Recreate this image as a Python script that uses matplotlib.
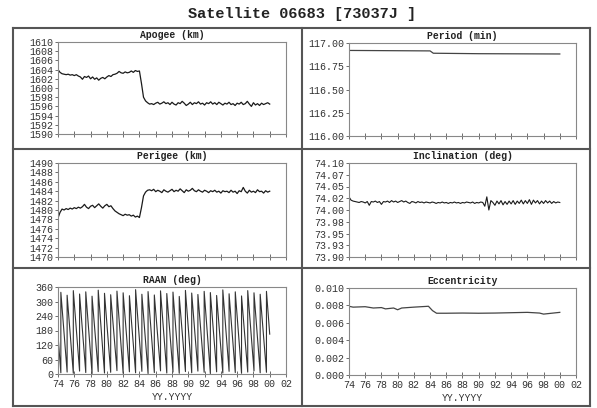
import numpy as np
import matplotlib
matplotlib.use('Agg')
import matplotlib.pyplot as plt
from matplotlib.lines import Line2D

plt.rcParams['font.family'] = ['Liberation Mono', 'DejaVu Sans Mono']

# sample epochs (two-digit years, 19xx)
years = [74.0, 74.25, 74.5, 74.75, 75.0, 75.25, 75.5, 75.75,
         76.0, 76.25, 76.5, 76.75, 77.0, 77.25, 77.5, 77.75,
         78.0, 78.25, 78.5, 78.75, 79.0, 79.25, 79.5, 79.75,
         80.0, 80.25, 80.5, 80.75, 81.0, 81.25, 81.5, 81.75,
         82.0, 82.25, 82.5, 82.75, 83.0, 83.25, 83.5, 83.75,
         84.0, 84.25, 84.5, 84.75, 85.0, 85.25, 85.5, 85.75,
         86.0, 86.25, 86.5, 86.75, 87.0, 87.25, 87.5, 87.75,
         88.0, 88.25, 88.5, 88.75, 89.0, 89.25, 89.5, 89.75,
         90.0, 90.25, 90.5, 90.75, 91.0, 91.25, 91.5, 91.75,
         92.0, 92.25, 92.5, 92.75, 93.0, 93.25, 93.5, 93.75,
         94.0, 94.25, 94.5, 94.75, 95.0, 95.25, 95.5, 95.75,
         96.0, 96.25, 96.5, 96.75, 97.0, 97.25, 97.5, 97.75,
         98.0, 98.25, 98.5, 98.75, 99.0, 99.25, 99.5, 99.75,
         100.0]

apogee = [1604.0, 1603.4, 1603.1, 1603.0, 1602.9, 1603.0, 1602.8, 1602.9,
          1602.7, 1602.9, 1602.6, 1602.4, 1601.9, 1602.5, 1602.3, 1602.6,
          1602.0, 1602.4, 1601.9, 1602.2, 1601.7, 1602.1, 1602.3, 1602.0,
          1602.4, 1602.7, 1602.5, 1602.9, 1603.0, 1603.2, 1603.6, 1603.3,
          1603.2, 1603.5, 1603.3, 1603.4, 1603.7, 1603.4, 1603.8, 1603.6,
          1603.7, 1601.0, 1598.0, 1597.2, 1596.8, 1596.5, 1596.6, 1596.4,
          1596.7, 1596.9, 1596.5, 1596.7, 1597.0, 1596.6, 1596.8, 1596.4,
          1596.9, 1596.5, 1596.3, 1596.8, 1596.6, 1597.1, 1596.7, 1596.2,
          1596.5, 1596.9, 1596.4, 1596.8, 1596.6, 1597.0, 1596.5, 1596.7,
          1596.3, 1596.8, 1596.6, 1597.0, 1596.5, 1596.8, 1596.4, 1596.9,
          1596.6, 1596.3, 1596.7, 1596.5, 1596.9, 1596.4, 1596.6, 1596.2,
          1596.7, 1596.5, 1596.9, 1596.4, 1596.6, 1597.1, 1596.5, 1596.0,
          1596.8, 1596.3, 1596.6, 1596.2, 1596.7, 1596.4, 1596.6, 1596.8,
          1596.5]

perigee = [1478.3, 1479.5, 1480.2, 1480.0, 1480.3, 1480.1, 1480.4, 1480.2,
           1480.5, 1480.3, 1480.6, 1480.4, 1480.7, 1481.2, 1480.6, 1480.3,
           1480.8, 1481.0, 1480.5, 1480.9, 1481.3, 1480.8, 1480.4, 1480.9,
           1481.2, 1480.7, 1480.9, 1480.3, 1479.8, 1479.5, 1479.2, 1479.0,
           1478.8, 1479.1, 1478.9, 1479.0, 1478.7, 1478.9, 1478.5, 1478.7,
           1478.4, 1480.5, 1483.0, 1483.8, 1484.2, 1484.3, 1484.1, 1484.4,
           1483.9, 1484.2, 1484.0, 1483.7, 1484.3, 1484.0, 1483.8, 1484.1,
           1484.4, 1483.9, 1484.2, 1484.0, 1484.5, 1484.1, 1483.7, 1484.3,
           1484.0, 1484.2, 1484.6, 1484.1, 1483.9, 1484.3, 1484.0, 1483.8,
           1484.2, 1484.0, 1483.7, 1484.1, 1483.9, 1484.2, 1483.8, 1484.0,
           1483.6, 1484.1, 1483.9, 1484.0, 1483.7, 1484.2, 1483.8, 1484.0,
           1483.5, 1484.1, 1483.9, 1484.8, 1484.0, 1483.6, 1484.2, 1483.8,
           1484.0, 1483.7, 1484.3, 1483.9, 1484.0, 1483.6, 1484.1, 1483.8,
           1484.0]

inclination = [74.028, 74.021, 74.019, 74.018, 74.017, 74.016, 74.018, 74.017,
               74.015, 74.018, 74.010, 74.018, 74.017, 74.019, 74.016, 74.018,
               74.012, 74.018, 74.017, 74.019, 74.016, 74.020, 74.017, 74.019,
               74.016, 74.018, 74.020, 74.017, 74.019, 74.016, 74.014, 74.018,
               74.017, 74.015, 74.018, 74.016, 74.017, 74.015, 74.017, 74.016,
               74.015, 74.017, 74.016, 74.014, 74.016, 74.015, 74.017, 74.015,
               74.016, 74.014, 74.016, 74.015, 74.017, 74.015, 74.016, 74.014,
               74.016, 74.015, 74.017, 74.016, 74.015, 74.017, 74.014, 74.016,
               74.015, 74.017, 74.016, 74.008, 74.028, 74.000, 74.020, 74.016,
               74.010, 74.019, 74.013, 74.020, 74.011, 74.018, 74.012, 74.019,
               74.013, 74.020, 74.012, 74.019, 74.014, 74.021, 74.013, 74.020,
               74.014, 74.022, 74.012, 74.021, 74.015, 74.020, 74.013, 74.019,
               74.014, 74.020, 74.015, 74.019, 74.014, 74.018, 74.015, 74.017,
               74.016]

period_years = [74.0, 78.0, 84.0, 84.4, 90.0, 100.0]
period = [116.92, 116.918, 116.915, 116.89, 116.885, 116.882]

ecc_years = [74.0, 74.5, 76.0, 77.0, 78.0, 78.5, 79.5, 80.0, 80.5, 82.0, 83.8,
             84.3, 84.8, 86.0, 88.0, 90.0, 92.0, 96.0, 97.5, 98.0, 100.0]
eccentricity = [0.0079, 0.0078, 0.00785, 0.0077, 0.00775, 0.0076, 0.0077, 0.0075,
                0.0077, 0.0078, 0.0079, 0.0074, 0.0071, 0.0071, 0.00712, 0.0071,
                0.00712, 0.0072, 0.00712, 0.0070, 0.0072]

# RAAN wraps 360 -> 0 (read from the strokes)
raan_wrap_years = [74.35, 75.12, 75.88, 76.65, 77.41, 78.18, 78.94, 79.71, 80.47, 81.24,
                   82.00, 82.77, 83.53, 84.30, 85.06, 85.83, 86.59, 87.36, 88.12, 88.89,
                   89.65, 90.42, 91.18, 91.95, 92.71, 93.48, 94.24, 95.01, 95.77, 96.54,
                   97.30, 98.07, 98.83, 99.60]
raan_troughs = [5, 8, 3, 12, 6, 2, 10, 4, 7, 14, 3, 9, 5, 11, 2, 6, 13, 4, 8, 3,
                10, 5, 12, 7, 2, 9, 4, 11, 6, 3, 8, 13, 5, 7]
raan_peaks = [338, 326, 345, 331, 340, 322, 347, 334, 328, 343, 336, 324, 349, 330, 341,
              327, 344, 333, 339, 321, 346, 335, 329, 342, 337, 325, 348, 332, 340, 323,
              345, 336, 330, 342]
raan_start = 160
raan_end = 165

xticks = [74, 76, 78, 80, 82, 84, 86, 88, 90, 92, 94, 96, 98, 100, 102]
xticklabels = ['74', '76', '78', '80', '82', '84', '86', '88', '90', '92', '94',
               '96', '98', '00', '02']

W, H = 597, 408
fig = plt.figure(figsize=(W / 100, H / 100), dpi=100)
fig.patch.set_facecolor('white')


def box(l, r, t, b):
    return [l / W, 1 - b / H, (r - l) / W, (b - t) / H]


def style(ax, title, yt, ylabels, bottom=False):
    ax.set_xlim(74, 102)
    ax.set_ylim(yt[0], yt[-1])
    ax.set_title(title, fontsize=7, fontweight='bold', pad=3, color='#222')
    for s in ax.spines.values():
        s.set_color('#888')
        s.set_linewidth(0.8)
    ax.set_yticks(yt)
    ax.set_yticklabels(ylabels)
    ax.tick_params(axis='y', direction='out', length=2.5, width=0.6, colors='#555',
                   labelsize=7.2, labelcolor='#333', pad=1)
    ax.set_xticks(xticks)
    ax.tick_params(axis='x', direction='inout', length=5, width=0.6, colors='#555',
                   labelsize=7.2, labelcolor='#333', pad=1)
    if bottom:
        ax.set_xticklabels(xticklabels)
        ax.set_xlabel('YY.YYYY', fontsize=7, color='#333', labelpad=2)
    else:
        ax.set_xticklabels([])


lc = '#1a1a1a'

ax1 = fig.add_axes(box(58, 286, 42, 134))
ax1.plot(years, apogee, color=lc, lw=0.9)
t = list(range(1590, 1611, 2))
style(ax1, 'Apogee (km)', t, [str(v) for v in t])

ax2 = fig.add_axes(box(349, 576, 43, 136))
ax2.plot(period_years, period, color='#444', lw=0.9)
style(ax2, 'Period (min)', [116.0, 116.25, 116.5, 116.75, 117.0],
      ['116.00', '116.25', '116.50', '116.75', '117.00'])

ax3 = fig.add_axes(box(58, 286, 163, 257))
ax3.plot(years, perigee, color=lc, lw=0.9)
t = list(range(1470, 1491, 2))
style(ax3, 'Perigee (km)', t, [str(v) for v in t])

ax4 = fig.add_axes(box(349, 576, 163, 257))
ax4.plot(years, inclination, color=lc, lw=0.8)
style(ax4, 'Inclination (deg)',
      [73.9, 73.925, 73.95, 73.975, 74.0, 74.025, 74.05, 74.075, 74.1],
      ['73.90', '73.93', '73.95', '73.98', '74.00', '74.02', '74.05', '74.07', '74.10'])

ax5 = fig.add_axes(box(58, 286, 287, 374))
rx, ry = [74.0], [raan_start]
for ty, lo, hi in zip(raan_wrap_years, raan_troughs, raan_peaks):
    rx += [ty, ty]
    ry += [lo, hi]
rx.append(100.0)
ry.append(raan_end)
ax5.plot(rx, ry, color='#333', lw=0.8)
t = [0, 60, 120, 180, 240, 300, 360]
style(ax5, 'RAAN (deg)', t, [str(v) for v in t], bottom=True)

ax6 = fig.add_axes(box(349, 576, 288, 375))
ax6.plot(ecc_years, eccentricity, color='#444', lw=0.9)
style(ax6, 'Eccentricity', [0.0, 0.002, 0.004, 0.006, 0.008, 0.010],
      ['0.000', '0.002', '0.004', '0.006', '0.008', '0.010'], bottom=True)

# outer frame and dividers
fc = '#555'
for (x0, y0, x1, y1) in [(13, 28, 590, 28), (13, 406, 590, 406), (13, 28, 13, 406),
                         (590, 28, 590, 406), (302, 28, 302, 406),
                         (13, 149, 590, 149), (13, 268, 590, 268)]:
    fig.add_artist(Line2D([x0 / W, x1 / W], [1 - y0 / H, 1 - y1 / H],
                          transform=fig.transFigure, color=fc, lw=1.5))

fig.text(302 / W, 1 - 14 / H, 'Satellite 06683 [73037J ]', ha='center', va='center',
         fontsize=11, fontweight='bold', color='#222')

fig.savefig('out.png', dpi=100)
